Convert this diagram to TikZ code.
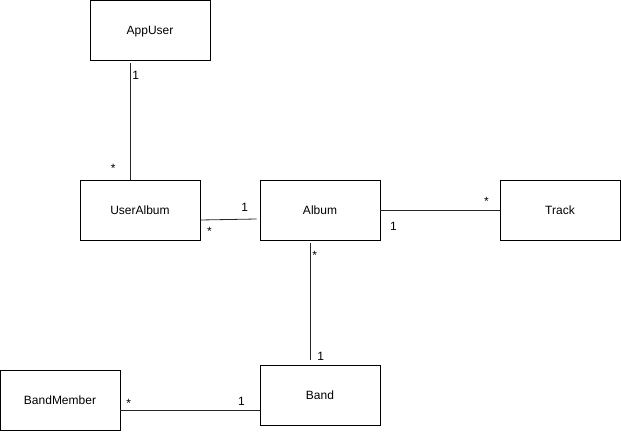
\documentclass[tikz,border=0pt]{standalone}
\usepackage{fontspec}
\setmainfont{Liberation Sans}
\usetikzlibrary{positioning}

\begin{document}
\begin{tikzpicture}[x=1pt,y=1pt,node distance=2cm,on grid,
    entity/.style={rectangle,draw,line width=0.8pt,minimum width=120pt,minimum height=60pt,inner sep=0pt,text height=9pt,text depth=0pt,font=\fontsize{12}{14}\selectfont},
    assoc/.style={line width=0.8pt,draw=black!85},
    mult/.style={font=\fontsize{12}{14}\selectfont,inner sep=2pt}]
            \useasboundingbox (0,0) rectangle (621,-431);
            \node[entity] (Album) at (320,-210) {Album};
            \node[entity] [left=180pt of Album] (UserAlbum) {UserAlbum};
            \node[entity] [right=240pt of Album] (Track) {Track};
            \node[entity] [above right=180pt and 10pt of UserAlbum] (AppUser) {AppUser};
            \node[entity] [below=185pt of Album] (Band) {Band};
            \node[entity] [below left=190pt and 260pt of Album] (BandMember) {BandMember};
            \draw[assoc] ([xshift=-20pt,yshift=-3pt]AppUser.south) -- ([xshift=-10pt]UserAlbum.north)
                node[mult,pos=0.1,right] {1}
                node[mult,pos=0.9,left=12pt] {*};
            \draw[assoc] ([yshift=-10pt]UserAlbum.east) -- ([xshift=-3pt,yshift=-9pt]Album.west)
                node[mult,pos=0.16,below=5pt] {*}
                node[mult,pos=0.79,above=5pt] {1};
            \draw[assoc] (Album.east) -- (Track.west)
                node[mult,pos=0.11,below=10pt] {1}
                node[mult,pos=0.89,above=2pt] {*};
            \draw[assoc] ([xshift=-10pt,yshift=-3pt]Album.south) -- ([xshift=-10pt,yshift=5pt]Band.north)
                node[mult,pos=0.1,right] {*}
                node[mult,pos=0.97,right=5pt] {1};
            \draw[assoc] ([yshift=-10pt]BandMember.east) -- ([yshift=-15pt]Band.west)
                node[mult,pos=0.06,above] {*}
                node[mult,pos=0.87,above=2pt] {1};
        \end{tikzpicture}
\end{document}
